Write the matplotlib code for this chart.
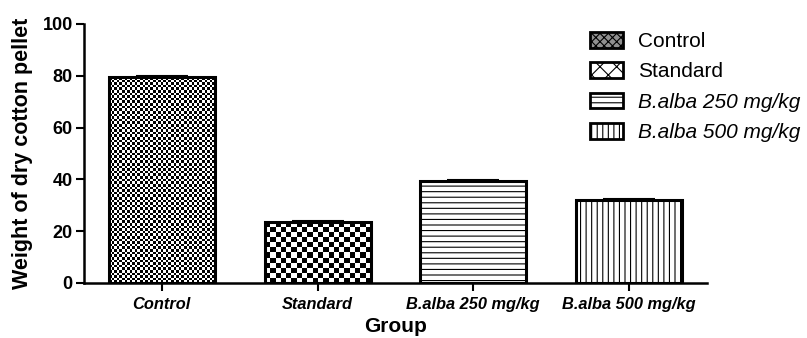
import numpy as np
import matplotlib.pyplot as plt
from matplotlib.patches import Patch

# Weight of dry cotton pellet per group
groups = ["Control", "Standard", "B.alba 250 mg/kg", "B.alba 500 mg/kg"]
weights = [79.5, 23.5, 39.2, 32.0]
sem = [0.4, 0.3, 0.4, 0.4]
yticks = [0, 20, 40, 60, 80, 100]

plt.rcParams['font.family'] = ['Liberation Sans', 'DejaVu Sans']
plt.rcParams['hatch.linewidth'] = 0.8

fig = plt.figure(figsize=(8.07, 3.38), dpi=100)
ax = fig.add_axes([0.104, 0.163, 0.772, 0.766])

x = np.arange(len(groups))
width = 0.68
bars = ax.bar(x, weights, width=width, color='white', edgecolor='black',
              linewidth=2.2, zorder=3)
bars[0].set_facecolor('none')
bars[1].set_facecolor('none')
bars[2].set_hatch('---')
bars[3].set_hatch('|||')

# checkerboard fills for the first two bars, clipped to the bar shape
xlim = (-0.5, 3.5)
ylim = (0, 100)
px_x = 0.772 * 807 / (xlim[1] - xlim[0])   # pixels per x unit
px_y = 0.766 * 338 / (ylim[1] - ylim[0])   # pixels per y unit
for i, cell in [(0, 2.6), (1, 5.2)]:
    b = bars[i]
    nx = int(round(b.get_width() * px_x / cell))
    ny = int(round(b.get_height() * px_y / cell))
    board = (np.indices((ny, nx)).sum(axis=0) % 2).astype(float)
    im = ax.imshow(board, cmap='gray', vmin=0, vmax=1, interpolation='nearest',
                   extent=(b.get_x(), b.get_x() + b.get_width(), 0, b.get_height()),
                   aspect='auto', zorder=2)
    im.set_clip_path(b)

ax.errorbar(x, weights, yerr=[np.zeros(len(sem)), sem], fmt='none', ecolor='black',
            elinewidth=1.5, capsize=19, capthick=1.5, zorder=4)

ax.set_xlim(*xlim)
ax.set_ylim(*ylim)
ax.set_yticks(yticks)
ax.set_xticks(x)
ax.set_xticklabels(groups, fontsize=11.8, fontweight='bold', fontstyle='italic')
for lab in ax.get_yticklabels():
    lab.set_fontsize(13)
    lab.set_fontweight('bold')
ax.tick_params(axis='both', width=1.5, length=6)
ax.tick_params(axis='y', pad=2)
ax.tick_params(axis='x', pad=4)
ax.spines['top'].set_visible(False)
ax.spines['right'].set_visible(False)
ax.spines['left'].set_linewidth(1.8)
ax.spines['bottom'].set_linewidth(1.8)

ax.set_ylabel('Weight of dry cotton pellet', fontsize=15.5, fontweight='bold', labelpad=7)
ax.set_xlabel('Group', fontsize=15, fontweight='bold', labelpad=4)

handles = [
    Patch(facecolor='#909090', edgecolor='black', hatch='xxxx', linewidth=2),
    Patch(facecolor='white', edgecolor='black', hatch='xx', linewidth=2),
    Patch(facecolor='white', edgecolor='black', hatch='---', linewidth=2),
    Patch(facecolor='white', edgecolor='black', hatch='|||', linewidth=2),
]
leg = fig.legend(handles, groups, loc='upper left', bbox_to_anchor=(590 / 807, 1 - 32 / 338),
                 frameon=False, fontsize=15, borderpad=0, borderaxespad=0,
                 handlelength=1.6, handleheight=0.8, handletextpad=0.7, labelspacing=0.53)
for t in leg.get_texts()[2:]:
    t.set_fontstyle('italic')

plt.savefig('out.png', dpi=100)
